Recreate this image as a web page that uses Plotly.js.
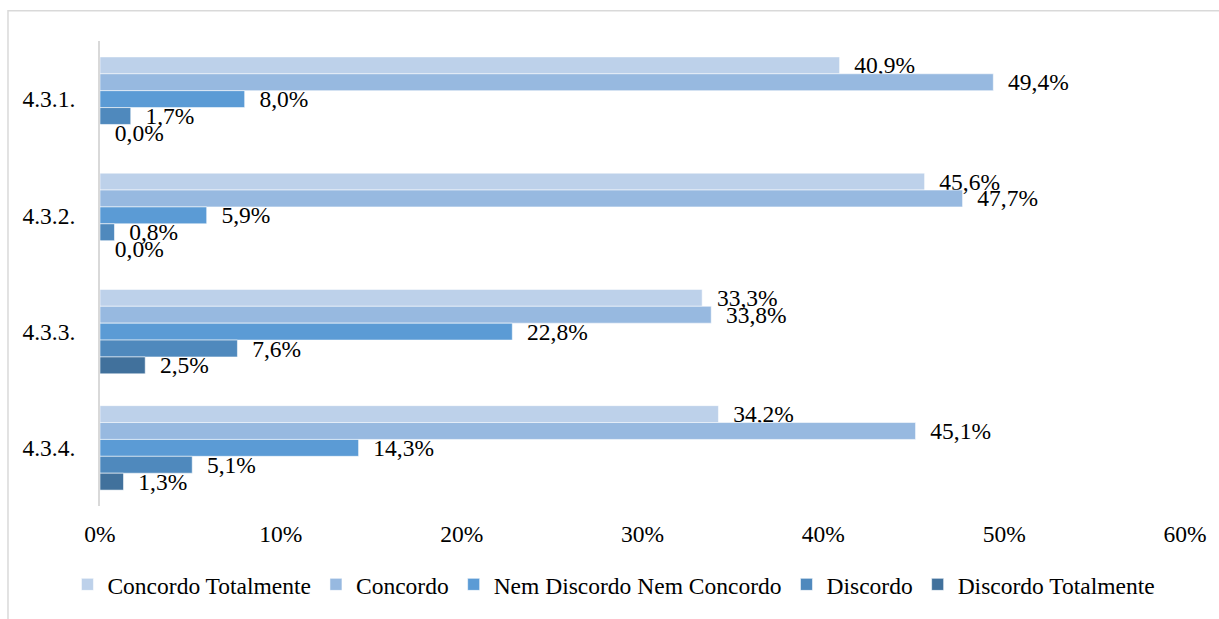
<!DOCTYPE html>
<html>
<head>
<meta charset="utf-8">
<script src="https://cdn.plot.ly/plotly-3.0.1.min.js"></script>
<style>
  html, body { margin: 0; padding: 0; background: #ffffff; }
  #chart { width: 1219px; height: 619px; }
</style>
</head>
<body>
<div id="chart"></div>
<script>
// Survey items (top to bottom)
const categories = ['4.3.1.', '4.3.2.', '4.3.3.', '4.3.4.'];

// Answer levels, in legend order
const seriesNames = [
  'Concordo Totalmente',
  'Concordo',
  'Nem Discordo Nem Concordo',
  'Discordo',
  'Discordo Totalmente'
];

// Percentages for each answer level, one value per item
const concordoTotalmente = [40.9, 45.6, 33.3, 34.2];
const concordo           = [49.4, 47.7, 33.8, 45.1];
const nemDiscordoNem     = [8.0, 5.9, 22.8, 14.3];
const discordo           = [1.7, 0.8, 7.6, 5.1];
const discordoTotalmente = [0.0, 0.0, 2.5, 1.3];

const xTicks = [0, 10, 20, 30, 40, 50, 60];

const seriesValues = [concordoTotalmente, concordo, nemDiscordoNem, discordo, discordoTotalmente];
const seriesColors = ['#BDD1EA', '#97B9E0', '#5B9BD5', '#4F89BD', '#41719C'];

const FONT = 'Liberation Serif, DejaVu Serif, serif';
const FS = 23.5;
const NB = '\u00a0\u00a0';

const traces = seriesNames.map((name, i) => ({
  type: 'bar',
  orientation: 'h',
  name: name,
  y: categories,
  x: seriesValues[i],
  marker: { color: seriesColors[i], line: { color: 'rgba(255,255,255,0.55)', width: 1 } },
  texttemplate: NB + '%{x:.1f}%',
  textposition: 'outside',
  constraintext: 'none',
  cliponaxis: false,
  textfont: { family: FONT, size: FS, color: '#000000' },
  hoverinfo: 'x+name'
}));

// Chart frame: left and top edges of the surrounding box
const frame = {
  type: 'path',
  xref: 'paper', yref: 'paper',
  path: 'M -0.0848 -0.3 L -0.0848 1.0653 L 1.2 1.0653',
  line: { color: '#D9D9D9', width: 1.5 },
  layer: 'below'
};

const layout = {
  width: 1219,
  height: 619,
  paper_bgcolor: '#ffffff',
  plot_bgcolor: '#ffffff',
  separators: ',.',
  font: { family: FONT, size: FS, color: '#000000' },
  margin: { l: 100, r: 34, t: 41, b: 111, pad: 0 },
  barmode: 'group',
  bargap: 0.2735,
  bargroupgap: 0,
  showlegend: true,
  legend: {
    orientation: 'h',
    xref: 'paper', yref: 'paper',
    x: -0.03, xanchor: 'left',
    y: -0.169, yanchor: 'middle',
    font: { family: FONT, size: FS, color: '#000000' },
    traceorder: 'normal',
    itemclick: false
  },
  xaxis: {
    range: [0, 60],
    tickvals: xTicks,
    ticktext: xTicks.map(v => v + '%'),
    showgrid: false,
    zeroline: false,
    showline: false,
    ticks: '',
    ticklabelstandoff: 11,
    tickfont: { family: FONT, size: FS, color: '#000000' },
    fixedrange: true
  },
  yaxis: {
    type: 'category',
    autorange: 'reversed',
    showgrid: false,
    zeroline: false,
    showline: true,
    linecolor: '#D9D9D9',
    linewidth: 2,
    ticks: '',
    ticklabelstandoff: 18,
    tickfont: { family: FONT, size: FS, color: '#000000' },
    fixedrange: true
  },
  shapes: [frame]
};

Plotly.newPlot('chart', traces, layout, { displayModeBar: false, staticPlot: true });
</script>
</body>
</html>
